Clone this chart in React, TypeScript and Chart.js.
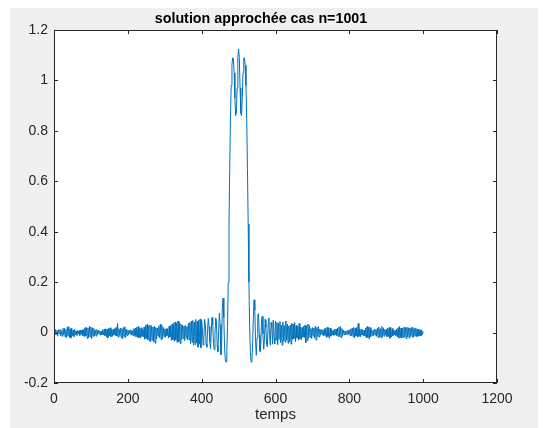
import React, { useEffect, useRef } from "react";
import { Chart, registerables } from "chart.js";
Chart.register(...registerables);

const titleText = "solution approchée cas n=1001";
const xLabelText = "temps";
const xTicks = [0, 200, 400, 600, 800, 1000, 1200];
const yTicks = [-0.2, 0, 0.2, 0.4, 0.6, 0.8, 1, 1.2];

const temps = [
  0, 2, 4, 6, 8, 10, 12, 14, 16, 18, 20, 22, 24, 26, 28, 30, 32, 34, 36, 38,
  40, 42, 44, 46, 48, 50, 52, 54, 56, 58, 60, 62, 64, 66, 68, 70, 72, 74, 76, 78,
  80, 82, 84, 86, 88, 90, 92, 94, 96, 98, 100, 102, 104, 106, 108, 110, 112, 114, 116, 118,
  120, 122, 124, 126, 128, 130, 132, 134, 136, 138, 140, 142, 144, 146, 148, 150, 152, 154, 156, 158,
  160, 162, 164, 166, 168, 170, 172, 174, 176, 178, 180, 182, 184, 186, 188, 190, 192, 194, 196, 198,
  200, 202, 204, 206, 208, 210, 212, 214, 216, 218, 220, 222, 224, 226, 228, 230, 232, 234, 236, 238,
  240, 242, 244, 246, 248, 250, 252, 254, 256, 258, 260, 262, 264, 266, 268, 270, 272, 274, 276, 278,
  280, 282, 284, 286, 288, 290, 292, 294, 296, 298, 300, 302, 304, 306, 308, 310, 312, 314, 316, 318,
  320, 322, 324, 326, 328, 330, 332, 334, 336, 338, 340, 342, 344, 346, 348, 350, 352, 354, 356, 358,
  360, 362, 364, 366, 368, 370, 372, 374, 376, 378, 380, 382, 384, 386, 388, 390, 392, 394, 396, 398,
  400, 402, 404, 406, 408, 410, 412, 414, 416, 418, 420, 422, 424, 426, 428, 430, 432, 434, 436, 438,
  440, 442, 444, 446, 448, 450, 452, 454, 456, 458, 460, 462, 464, 466, 468, 470, 472, 474, 476, 478,
  480, 482, 484, 486, 488, 490, 492, 494, 496, 498, 500, 502, 504, 506, 508, 510, 512, 514, 516, 518,
  520, 522, 524, 526, 528, 530, 532, 534, 536, 538, 540, 542, 544, 546, 548, 550, 552, 554, 556, 558,
  560, 562, 564, 566, 568, 570, 572, 574, 576, 578, 580, 582, 584, 586, 588, 590, 592, 594, 596, 598,
  600, 602, 604, 606, 608, 610, 612, 614, 616, 618, 620, 622, 624, 626, 628, 630, 632, 634, 636, 638,
  640, 642, 644, 646, 648, 650, 652, 654, 656, 658, 660, 662, 664, 666, 668, 670, 672, 674, 676, 678,
  680, 682, 684, 686, 688, 690, 692, 694, 696, 698, 700, 702, 704, 706, 708, 710, 712, 714, 716, 718,
  720, 722, 724, 726, 728, 730, 732, 734, 736, 738, 740, 742, 744, 746, 748, 750, 752, 754, 756, 758,
  760, 762, 764, 766, 768, 770, 772, 774, 776, 778, 780, 782, 784, 786, 788, 790, 792, 794, 796, 798,
  800, 802, 804, 806, 808, 810, 812, 814, 816, 818, 820, 822, 824, 826, 828, 830, 832, 834, 836, 838,
  840, 842, 844, 846, 848, 850, 852, 854, 856, 858, 860, 862, 864, 866, 868, 870, 872, 874, 876, 878,
  880, 882, 884, 886, 888, 890, 892, 894, 896, 898, 900, 902, 904, 906, 908, 910, 912, 914, 916, 918,
  920, 922, 924, 926, 928, 930, 932, 934, 936, 938, 940, 942, 944, 946, 948, 950, 952, 954, 956, 958,
  960, 962, 964, 966, 968, 970, 972, 974, 976, 978, 980, 982, 984, 986, 988, 990, 992, 994, 996, 998,
  1000,
];

const solution = [
  0.004, -0.01, 0.012, -0.006, 0.009, -0.014, 0.011, -0.004, 0.013, -0.012, 0.007, -0.015, 0.016, -0.009, 0.018, -0.017, 0.012, -0.02, 0.022, -0.014,
  0.024, -0.019, 0.015, -0.022, 0.018, -0.012, 0.01, -0.016, 0.013, -0.008, 0.006, -0.011, 0.009, -0.005, 0.008, -0.012, 0.01, -0.007, 0.011, -0.013,
  0.012, -0.016, 0.019, -0.014, 0.021, -0.023, 0.018, -0.02, 0.025, -0.017, 0.022, -0.024, 0.019, -0.015, 0.016, -0.012, 0.01, -0.014, 0.012, -0.008,
  0.009, -0.006, 0.007, -0.01, 0.005, -0.008, 0.011, -0.009, 0.013, -0.012, 0.015, -0.018, 0.014, -0.02, 0.017, -0.013, 0.019, -0.016, 0.012, -0.015,
  0.013, -0.01, 0.016, -0.012, 0.02, -0.014, 0.036, -0.018, 0.015, -0.011, 0.018, -0.021, 0.016, -0.024, 0.02, -0.017, 0.023, -0.019, 0.014, -0.012,
  0.01, -0.008, 0.009, -0.006, 0.011, -0.01, 0.008, -0.013, 0.015, -0.011, 0.018, -0.016, 0.021, -0.019, 0.024, -0.02, 0.017, -0.022, 0.019, -0.015,
  0.013, -0.017, 0.022, -0.026, 0.029, -0.024, 0.032, -0.028, 0.025, -0.033, 0.03, -0.036, 0.027, -0.03, 0.022, -0.038, 0.026, -0.042, 0.02, -0.024,
  0.018, -0.014, 0.026, -0.02, 0.034, -0.028, 0.031, -0.024, 0.02, -0.016, 0.014, -0.019, 0.016, -0.012, 0.015, -0.022, 0.026, -0.018, 0.028, -0.031,
  0.033, -0.028, 0.038, -0.034, 0.042, -0.03, 0.036, -0.04, 0.046, -0.036, 0.04, -0.044, 0.034, -0.028, 0.03, -0.024, 0.026, -0.032, 0.028, -0.022,
  0.024, -0.03, 0.036, -0.028, 0.04, -0.044, 0.046, -0.038, 0.048, -0.05, 0.042, -0.048, 0.052, -0.04, 0.044, -0.058, 0.05, -0.046, 0.054, -0.06,
  0.048, 0.01, -0.05, -0.02, 0.052, 0.03, -0.044, -0.058, 0.012, 0.056, 0.024, -0.036, -0.064, 0.004, 0.06, 0.032, -0.042, -0.068, -0.008, 0.058,
  0.046, -0.05, -0.076, 0.008, 0.078, 0.032, -0.088, -0.052, 0.096, 0.137, 0.06, -0.06, -0.108, -0.117, -0.08, 0.02, 0.2, 0.43, 0.65, 0.85,
  0.98, 1.06, 1.09, 1.085, 1.03, 0.93, 0.86, 0.87, 0.97, 1.09, 1.125, 1.09, 0.97, 0.87, 0.86, 0.93, 1.03, 1.085, 1.09, 1.06,
  0.98, 0.85, 0.65, 0.43, 0.2, 0.02, -0.08, -0.117, -0.11, -0.05, 0.06, 0.13, 0.09, -0.04, -0.09, -0.02, 0.07, 0.075, -0.01, -0.075,
  -0.05, 0.042, 0.064, -0.006, -0.066, -0.03, 0.052, 0.02, -0.048, -0.056, 0.034, 0.058, -0.012, -0.05, 0.04, 0.024, -0.046, 0.05, -0.02, -0.044,
  0.046, -0.03, 0.04, -0.048, 0.036, -0.026, 0.044, -0.04, 0.03, -0.05, 0.042, -0.034, 0.028, -0.038, 0.046, -0.03, 0.034, -0.042, 0.026, -0.036,
  0.03, -0.046, 0.038, -0.028, 0.034, -0.024, 0.04, -0.036, 0.028, -0.022, 0.026, -0.03, 0.036, -0.026, 0.022, -0.028, 0.02, -0.018, 0.024, -0.02,
  0.03, -0.04, 0.026, -0.032, 0.034, -0.022, 0.028, -0.018, 0.016, -0.024, 0.02, -0.014, 0.018, -0.022, 0.026, -0.03, 0.02, -0.016, 0.024, -0.018,
  0.014, -0.01, 0.012, -0.008, 0.01, -0.013, 0.015, -0.011, 0.017, -0.019, 0.021, -0.016, 0.019, -0.023, 0.018, -0.014, 0.012, -0.01, 0.008, -0.011,
  0.013, -0.009, 0.014, -0.012, 0.018, -0.015, 0.022, -0.017, 0.024, -0.02, 0.016, -0.012, 0.01, -0.008, 0.007, -0.009, 0.006, -0.008, 0.01, -0.007,
  0.011, -0.013, 0.015, -0.012, 0.018, -0.016, 0.02, -0.022, 0.017, -0.014, 0.021, -0.018, 0.036, -0.015, 0.012, -0.017, 0.014, -0.01, 0.009, -0.012,
  0.01, -0.014, 0.018, -0.021, 0.024, -0.019, 0.022, -0.026, 0.02, -0.016, 0.013, -0.011, 0.009, -0.012, 0.014, -0.01, 0.012, -0.015, 0.017, -0.02,
  0.022, -0.018, 0.015, -0.021, 0.024, -0.017, 0.019, -0.014, 0.012, -0.01, 0.013, -0.016, 0.018, -0.015, 0.02, -0.023, 0.021, -0.018, 0.016, -0.013,
  0.011, -0.009, 0.008, -0.012, 0.014, -0.017, 0.019, -0.022, 0.024, -0.02, 0.018, -0.021, 0.016, -0.019, 0.022, -0.018, 0.02, -0.024, 0.021, -0.017,
  0.019, -0.022, 0.018, -0.015, 0.02, -0.017, 0.021, -0.019, 0.016, -0.014, 0.018, -0.016, 0.013, -0.015, 0.014, -0.012, 0.011, -0.013, 0.01, -0.008,
  0.004,
];

const FONT = '"Liberation Sans", Arial, Helvetica, sans-serif';
const AXIS_COLOR = "#262626";

const decorPlugin = {
  id: "matlabDecor",
  beforeDraw(chart: any) {
    const { ctx, chartArea: a } = chart;
    ctx.save();
    ctx.fillStyle = "#ffffff";
    ctx.fillRect(a.left, a.top, a.right - a.left, a.bottom - a.top);
    ctx.restore();
  },
  afterDraw(chart: any) {
    const { ctx, chartArea: a, scales } = chart;
    const xs = scales.x;
    const ys = scales.y;
    ctx.save();
    ctx.strokeStyle = AXIS_COLOR;
    ctx.lineWidth = 1;
    ctx.beginPath();
    ctx.rect(Math.round(a.left) + 0.5, Math.round(a.top) + 0.5, Math.round(a.right - a.left) - 1, Math.round(a.bottom - a.top) - 1);
    ctx.stroke();
    const tl = 4;
    ctx.beginPath();
    xTicks.forEach((v) => {
      const px = Math.round(xs.getPixelForValue(v)) + 0.5;
      ctx.moveTo(px, a.bottom);
      ctx.lineTo(px, a.bottom - tl);
      ctx.moveTo(px, a.top);
      ctx.lineTo(px, a.top + tl);
    });
    yTicks.forEach((v) => {
      const py = Math.round(ys.getPixelForValue(v)) + 0.5;
      ctx.moveTo(a.left, py);
      ctx.lineTo(a.left + tl, py);
      ctx.moveTo(a.right, py);
      ctx.lineTo(a.right - tl, py);
    });
    ctx.stroke();

    ctx.fillStyle = "#000000";
    ctx.textAlign = "center";
    ctx.textBaseline = "middle";
    ctx.font = `bold 14.3px ${FONT}`;
    ctx.fillText(titleText, 251, 11);
    ctx.fillStyle = AXIS_COLOR;
    ctx.font = `15px ${FONT}`;
    ctx.fillText(xLabelText, (a.left + a.right) / 2, 407);
    ctx.restore();
  },
};

export default function App() {
  const ref = useRef<HTMLCanvasElement | null>(null);
  useEffect(() => {
    if (!ref.current) return;
    const points = temps.map((t, i) => ({ x: t, y: solution[i] }));
    const chart = new Chart(ref.current, {
      type: "line",
      data: {
        datasets: [
          {
            data: points,
            borderColor: "#0072BD",
            borderWidth: 1,
            pointRadius: 0,
            tension: 0,
            fill: false,
          },
        ],
      },
      options: {
        animation: false,
        responsive: false,
        events: [],
        layout: { padding: { left: 0, top: 22, right: 41, bottom: 0 } },
        plugins: { legend: { display: false }, title: { display: false }, tooltip: { enabled: false } },
        scales: {
          x: {
            type: "linear",
            min: 0,
            max: 1200,
            grid: { display: false, drawTicks: false },
            border: { display: false },
            afterBuildTicks: (s: any) => {
              s.ticks = xTicks.map((v) => ({ value: v }));
            },
            afterFit: (s: any) => {
              s.height = 45;
            },
            ticks: {
              padding: 8,
              color: AXIS_COLOR,
              font: { family: FONT, size: 14 },
              maxRotation: 0,
              autoSkip: false,
              callback: (v: any) => String(v),
            },
          },
          y: {
            type: "linear",
            min: -0.2,
            max: 1.2,
            grid: { display: false, drawTicks: false },
            border: { display: false },
            afterBuildTicks: (s: any) => {
              s.ticks = yTicks.map((v) => ({ value: v }));
            },
            afterFit: (s: any) => {
              s.width = 44;
            },
            ticks: {
              padding: 6,
              color: AXIS_COLOR,
              font: { family: FONT, size: 14 },
              autoSkip: false,
              callback: (v: any) => String(v),
            },
          },
        },
      },
      plugins: [decorPlugin],
    });
    return () => chart.destroy();
  }, []);

  return (
    <div style={{ position: "fixed", left: 0, top: 0, width: 549, height: 428, background: "#ffffff" }}>
      <div style={{ position: "absolute", left: 10, top: 8, width: 528, height: 420, background: "#f0f0f0" }}>
        <canvas ref={ref} width={528} height={420} style={{ display: "block", width: 528, height: 420 }} />
      </div>
    </div>
  );
}
